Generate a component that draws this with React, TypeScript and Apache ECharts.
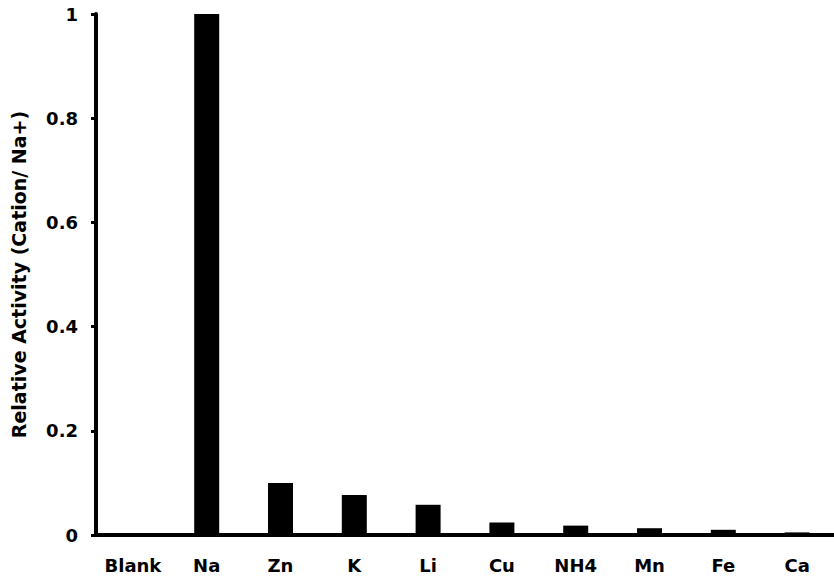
import React, { useEffect, useRef } from "react";
import * as echarts from "echarts";

const categories = ["Blank", "Na", "Zn", "K", "Li", "Cu", "NH4", "Mn", "Fe", "Ca"];
const activity = [0, 1, 0.1, 0.077, 0.058, 0.024, 0.018, 0.013, 0.01, 0.005];
const yTicks = [0, 0.2, 0.4, 0.6, 0.8, 1];

const FONT = "DejaVu Sans";

export default function App() {
  const ref = useRef<HTMLDivElement>(null);
  useEffect(() => {
    if (!ref.current) return;
    const chart = echarts.init(ref.current, undefined, { renderer: "svg" });
    chart.setOption({
      animation: false,
      backgroundColor: "#ffffff",
      grid: { left: 96, right: -2, top: 14, bottom: 44, containLabel: false },
      xAxis: {
        type: "category",
        data: categories,
        axisLine: { show: true, lineStyle: { color: "#000", width: 4 } },
        axisTick: { show: false },
        axisLabel: {
          interval: 0,
          hideOverlap: false,
          color: "#000",
          fontFamily: FONT,
          fontWeight: "bold",
          fontSize: 18,
          margin: 21,
        },
        splitLine: { show: false },
      },
      yAxis: {
        type: "value",
        min: yTicks[0],
        max: yTicks[yTicks.length - 1],
        interval: 0.2,
        name: "Relative Activity (Cation/ Na+)",
        nameLocation: "middle",
        nameGap: 68,
        nameTextStyle: {
          color: "#000",
          fontFamily: FONT,
          fontWeight: "bold",
          fontSize: 19,
        },
        axisLine: { show: true, lineStyle: { color: "#000", width: 4 } },
        axisTick: { show: true, inside: false, length: 5, lineStyle: { color: "#000", width: 3 } },
        axisLabel: {
          color: "#000",
          fontFamily: FONT,
          fontWeight: "bold",
          fontSize: 18,
          margin: 18,
        },
        splitLine: { show: false },
      },
      series: [
        {
          type: "bar",
          data: activity,
          barWidth: 25,
          itemStyle: { color: "#000" },
        },
      ],
    });
    return () => chart.dispose();
  }, []);
  return (
    <div
      ref={ref}
      style={{ position: "absolute", left: 0, top: 0, width: 834, height: 579 }}
    />
  );
}
